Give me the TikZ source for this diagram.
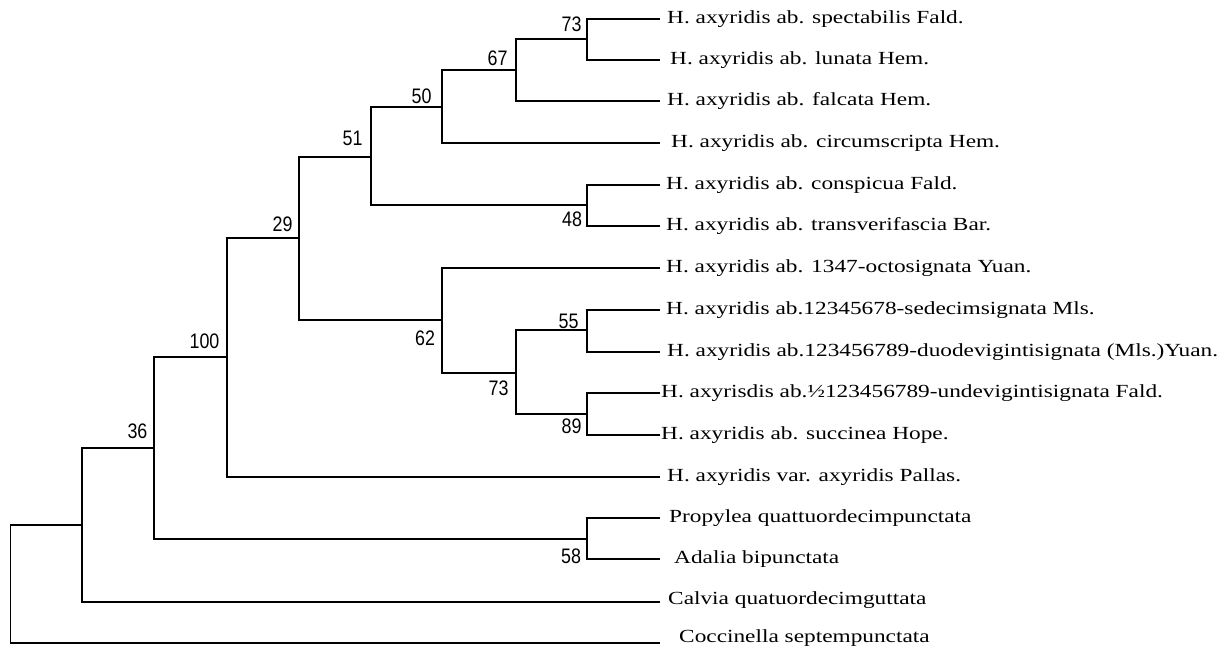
\documentclass[tikz,border=0pt]{standalone}
\usepackage{fontspec}
\newfontfamily\leaffont[FakeStretch=1.26]{Liberation Serif}
\newfontfamily\numfont[FakeStretch=0.85]{Liberation Sans}
\begin{document}
\begin{tikzpicture}[x=1pt,y=-1pt,
  branch/.style={draw=black, line width=1.1pt},
  leaf/.style={anchor=base west, inner sep=0pt, font=\leaffont\fontsize{18.5}{20}\selectfont},
  boot/.style={inner sep=0pt, font=\numfont\fontsize{21}{22}\selectfont}]
\useasboundingbox (0,0) rectangle (1229,648);
% internal nodes
\coordinate (root) at (10.3,525);
\coordinate (n82) at (82,525);
\coordinate (n154) at (154,448);
\coordinate (n227) at (227,357);
\coordinate (n299) at (299,238);
\coordinate (n371) at (371,157);
\coordinate (n442a) at (442,107);
\coordinate (n516a) at (516,70);
\coordinate (n587a) at (587,39);
\coordinate (n587b) at (587,205);
\coordinate (n442b) at (442,320);
\coordinate (n516b) at (516,373);
\coordinate (n587c) at (587,330);
\coordinate (n587d) at (587,414);
\coordinate (n587e) at (587,539);
% leaf ends
\coordinate (spec) at (660,19);
\coordinate (lun) at (660,60);
\coordinate (fal) at (660,101);
\coordinate (circ) at (660,143);
\coordinate (consp) at (660,185);
\coordinate (transv) at (660,226);
\coordinate (octo) at (660,268);
\coordinate (sedec) at (660,310);
\coordinate (duodev) at (660,352);
\coordinate (undev) at (660,393);
\coordinate (succ) at (660,435);
\coordinate (var) at (660,477);
\coordinate (prop) at (660,518);
\coordinate (adal) at (660,559);
\coordinate (calv) at (660,602);
\coordinate (cocc) at (660,643);
% branches
\draw[branch] (root) |- (n82);
\draw[branch] (root) |- (cocc);
\draw[branch] (n82) |- (n154);
\draw[branch] (n82) |- (calv);
\draw[branch] (n154) |- (n227);
\draw[branch] (n154) |- (n587e);
\draw[branch] (n227) |- (n299);
\draw[branch] (n227) |- (var);
\draw[branch] (n299) |- (n371);
\draw[branch] (n299) |- (n442b);
\draw[branch] (n371) |- (n442a);
\draw[branch] (n371) |- (n587b);
\draw[branch] (n442a) |- (n516a);
\draw[branch] (n442a) |- (circ);
\draw[branch] (n516a) |- (n587a);
\draw[branch] (n516a) |- (fal);
\draw[branch] (n587a) |- (spec);
\draw[branch] (n587a) |- (lun);
\draw[branch] (n587b) |- (consp);
\draw[branch] (n587b) |- (transv);
\draw[branch] (n442b) |- (octo);
\draw[branch] (n442b) |- (n516b);
\draw[branch] (n516b) |- (n587c);
\draw[branch] (n516b) |- (n587d);
\draw[branch] (n587c) |- (sedec);
\draw[branch] (n587c) |- (duodev);
\draw[branch] (n587d) |- (undev);
\draw[branch] (n587d) |- (succ);
\draw[branch] (n587e) |- (prop);
\draw[branch] (n587e) |- (adal);
% leaf labels
\node[leaf] (tspec) at (667,23) {H. axyridis ab. spectabilis Fald.};
\node[leaf] (tlun) at (670,64) {H. axyridis ab. lunata Hem.};
\node[leaf] (tfal) at (667,105) {H. axyridis ab. falcata Hem.};
\node[leaf] (tcirc) at (671,147) {H. axyridis ab. circumscripta Hem.};
\node[leaf] (tconsp) at (666,189) {H. axyridis ab. conspicua Fald.};
\node[leaf] (ttransv) at (666,230) {H. axyridis ab. transverifascia Bar.};
\node[leaf] (tocto) at (666,272) {H. axyridis ab. 1347-octosignata Yuan.};
\node[leaf] (tsedec) at (666,314) {H. axyridis ab.12345678-sedecimsignata Mls.};
\node[leaf] (tduodev) at (667,356) {H. axyridis ab.123456789-duodevigintisignata (Mls.)Yuan.};
\node[leaf] (tundev) at (661,397) {H. axyrisdis ab.½123456789-undevigintisignata Fald.};
\node[leaf] (tsucc) at (661,439) {H. axyridis ab. succinea Hope.};
\node[leaf] (tvar) at (667,481) {H. axyridis var. axyridis Pallas.};
\node[leaf] (tprop) at (669,522) {Propylea quattuordecimpunctata};
\node[leaf] (tadal) at (674,563) {Adalia bipunctata};
\node[leaf] (tcalv) at (668,604) {Calvia quatuordecimguttata};
\node[leaf] (tcocc) at (679,642) {Coccinella septempunctata};
% bootstrap values
\node[boot] (b73a) at (571.5,24.5) {73};
\node[boot] (b67) at (497.5,58.5) {67};
\node[boot] (b50) at (421.5,96) {50};
\node[boot] (b51) at (352.5,138) {51};
\node[boot] (b48) at (572,219.5) {48};
\node[boot] (b29) at (282.5,224) {29};
\node[boot] (b62) at (425,338.5) {62};
\node[boot] (b55) at (568.5,321) {55};
\node[boot] (b73b) at (498.5,388.5) {73};
\node[boot] (b89) at (571.5,426.5) {89};
\node[boot] (b100) at (204.5,341) {100};
\node[boot] (b36) at (137.5,431.5) {36};
\node[boot] (b58) at (571,556.5) {58};
\end{tikzpicture}
\end{document}
